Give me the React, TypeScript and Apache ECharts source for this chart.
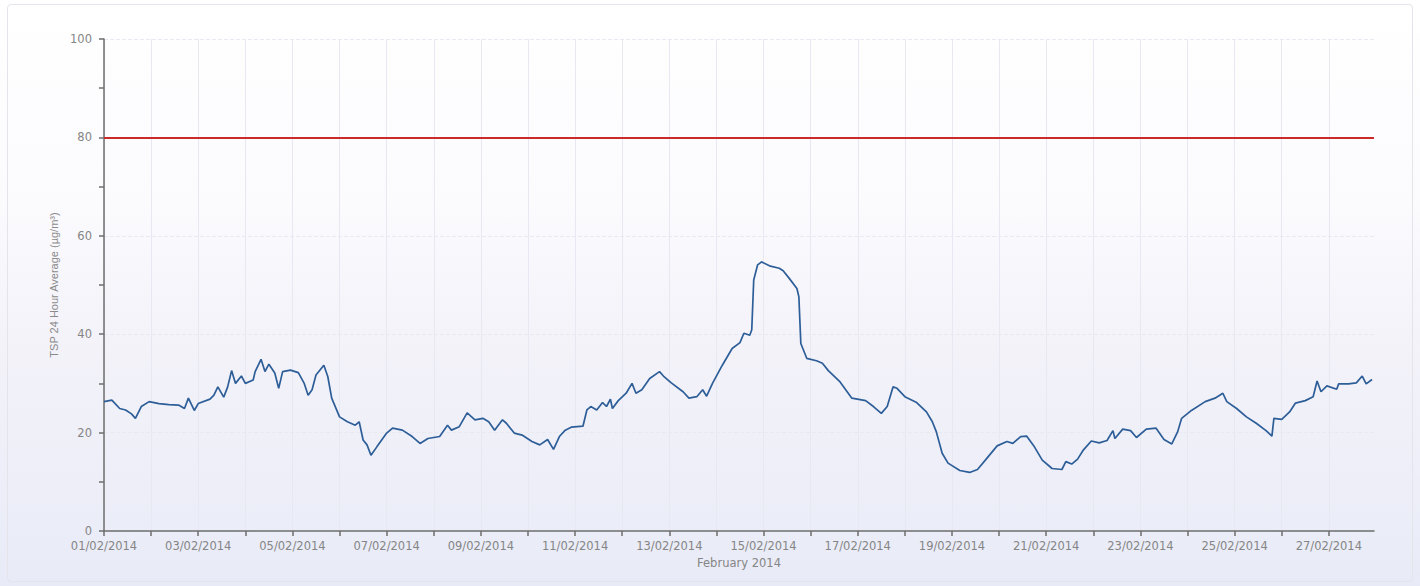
import React, { useEffect, useRef } from "react";
import * as echarts from "echarts";

// Hours since 01/02/2014 00:00
const hours = [
  0, 4, 8, 11, 14, 16, 19, 23, 28, 33, 38, 41, 43, 46, 48, 54, 56, 58, 61, 63,
  65, 67, 70, 72, 76, 77, 80, 82, 84, 87, 89, 91, 95, 99, 102, 104, 106, 108, 112, 114,
  116, 120, 124, 128, 130, 132, 134, 136, 139, 144, 147, 152, 157, 161, 165, 171, 175, 177, 181, 185,
  189, 193, 196, 199, 203, 205, 209, 213, 218, 222, 226, 229, 232, 235, 238, 244, 246, 248, 251, 254,
  256, 258, 259, 262, 266, 269, 271, 274, 278, 283, 285, 289, 295, 298, 302, 305, 307, 310, 315, 320,
  324, 326, 329, 330, 331, 333, 335, 339, 344, 346, 349, 353, 354, 355, 358, 363, 366, 369, 375, 381,
  388, 392, 396, 399, 402, 404, 408, 414, 419, 422, 424, 427, 430, 436, 441, 445, 449, 455, 460, 463,
  467, 470, 474, 478, 483, 488, 490, 493, 496, 499, 503, 507, 511, 514, 515, 519, 523, 526, 531, 536,
  540, 544, 547, 549, 554, 561, 566, 570, 572, 577, 582, 587, 592, 595, 596, 600, 604, 607, 612, 616,
  618, 620, 623, 628, 629, 634, 638, 641, 643, 646,
];

// TSP 24 hour average (µg/m³)
const tsp = [
  26.3, 26.6, 24.9, 24.6, 23.8, 22.9, 25.3, 26.3, 25.9, 25.7, 25.6, 24.9, 27.0, 24.5, 25.9, 26.8, 27.6, 29.3, 27.2, 29.3,
  32.6, 30.0, 31.5, 30.0, 30.7, 32.4, 34.9, 32.4, 33.9, 32.1, 29.0, 32.4, 32.7, 32.2, 30.0, 27.6, 28.7, 31.7, 33.7, 31.4,
  27.0, 23.2, 22.2, 21.5, 22.2, 18.5, 17.5, 15.4, 17.1, 19.9, 20.9, 20.5, 19.2, 17.8, 18.8, 19.2, 21.5, 20.5, 21.2, 24.0,
  22.6, 22.9, 22.2, 20.5, 22.6, 21.9, 19.9, 19.5, 18.2, 17.5, 18.6, 16.6, 19.2, 20.5, 21.1, 21.3, 24.6, 25.3, 24.6, 26.1,
  25.3, 26.8, 24.9, 26.5, 28.0, 30.0, 28.0, 28.7, 31.0, 32.4, 31.5, 30.1, 28.3, 27.0, 27.3, 28.7, 27.4, 30.0, 33.7, 37.1,
  38.3, 40.2, 39.8, 40.9, 51.0, 54.1, 54.7, 53.9, 53.4, 52.9, 51.4, 49.3, 47.6, 38.1, 35.1, 34.6, 34.1, 32.6, 30.3, 27.0,
  26.5, 25.3, 23.9, 25.3, 29.3, 29.0, 27.3, 26.1, 24.2, 22.2, 20.2, 15.8, 13.8, 12.3, 11.9, 12.5, 14.4, 17.3, 18.2, 17.8,
  19.2, 19.3, 17.1, 14.4, 12.7, 12.5, 14.1, 13.6, 14.6, 16.5, 18.3, 17.9, 18.4, 20.4, 18.8, 20.7, 20.4, 19.0, 20.7, 20.9,
  18.6, 17.7, 20.2, 22.9, 24.5, 26.3, 27.0, 28.0, 26.3, 24.9, 23.2, 21.9, 20.4, 19.3, 22.9, 22.7, 24.2, 26.0, 26.5, 27.3,
  30.5, 28.3, 29.5, 28.8, 29.9, 29.9, 30.1, 31.5, 29.9, 30.8,
];

const limitValue = 80;
const dayTickHours = Array.from({ length: 27 }, (_, d) => d * 24);
const dayLabelHours = Array.from({ length: 14 }, (_, d) => d * 48);
const yTickValues = [0, 10, 20, 30, 40, 50, 60, 70, 80, 90, 100];
const yLabelValues = [0, 20, 40, 60, 80, 100];
const axisMaxHours = 647;

const pad2 = (n: number) => (n < 10 ? "0" + n : "" + n);

export default function App() {
  const ref = useRef<HTMLDivElement>(null);

  useEffect(() => {
    if (!ref.current) return;
    const chart = echarts.init(ref.current, undefined, { renderer: "svg" });
    const font = "Liberation Sans, Arial, sans-serif";
    const wideFont = "DejaVu Sans, Verdana, sans-serif";
    chart.setOption({
      animation: false,
      backgroundColor: "transparent",
      grid: { left: 104, right: 46, top: 39, bottom: 55, containLabel: false },
      xAxis: {
        type: "value",
        min: 0,
        max: axisMaxHours,
        interval: 24,
        name: "February 2014",
        nameLocation: "middle",
        nameGap: 23,
        nameTextStyle: { color: "#858585", fontSize: 11.5, fontFamily: wideFont },
        axisLine: { lineStyle: { color: "#6e6e6e", width: 1.5 } },
        axisTick: {
          length: 5,
          customValues: dayTickHours,
          lineStyle: { color: "#6e6e6e", width: 1.5 },
        },
        axisLabel: {
          customValues: dayLabelHours,
          color: "#858585",
          fontSize: 11.5,
          fontFamily: wideFont,
          margin: 9,
          formatter: (v: number) => pad2(Math.round(v / 24) + 1) + "/02/2014",
        },
        splitLine: { show: true, lineStyle: { color: "#e8e8f2", width: 1 } },
      },
      yAxis: [
        {
          type: "value",
          min: 0,
          max: 100,
          interval: 10,
          name: "TSP 24 Hour Average (µg/m³)",
          nameLocation: "middle",
          nameGap: 36,
          nameTextStyle: { color: "#8a8a8a", fontSize: 11, fontFamily: font },
          axisLine: { show: true, lineStyle: { color: "#6e6e6e", width: 1.5 } },
          axisTick: {
            show: true,
            length: 5,
            customValues: yTickValues,
            lineStyle: { color: "#6e6e6e", width: 1.5 },
          },
          axisLabel: {
            customValues: yLabelValues,
            color: "#858585",
            fontSize: 11.5,
            fontFamily: wideFont,
            margin: 12,
          },
          splitLine: { show: false },
        },
        {
          type: "value",
          min: 0,
          max: 100,
          interval: 20,
          position: "left",
          axisLine: { show: false },
          axisTick: { show: false },
          axisLabel: { show: false },
          splitLine: { show: true, lineStyle: { color: "#e9e9f1", width: 1, type: "dashed" } },
        },
      ],
      series: [
        {
          type: "line",
          yAxisIndex: 0,
          showSymbol: false,
          symbol: "none",
          lineStyle: { color: "#2d5e98", width: 1.7 },
          data: hours.map((h, i) => [h, tsp[i]]),
          markLine: {
            silent: true,
            symbol: ["none", "none"],
            label: { show: false },
            lineStyle: { color: "#cc2a2a", width: 2, type: "solid" },
            data: [{ yAxis: limitValue }],
          },
        },
      ],
    });
    return () => chart.dispose();
  }, []);

  return (
    <div
      style={{
        position: "fixed",
        left: 0,
        top: 0,
        width: 1420,
        height: 586,
        background: "linear-gradient(#ffffff 0%, #fbfafd 35%, #f3f2f9 60%, #e8ebf7 100%)",
      }}
    >
      <div
        style={{
          position: "absolute",
          left: 7,
          top: 4,
          right: 7,
          bottom: 4,
          border: "1px solid #e4e4ea",
          borderRadius: 4,
        }}
      />
      <div ref={ref} style={{ position: "absolute", left: 0, top: 0, width: 1420, height: 586 }} />
    </div>
  );
}
